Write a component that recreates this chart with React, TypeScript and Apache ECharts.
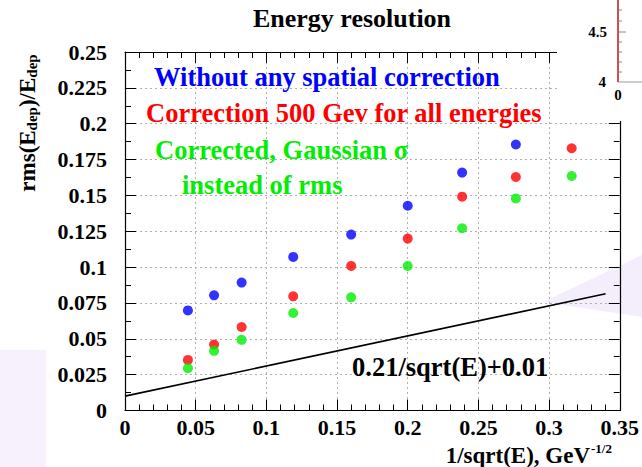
import { useEffect, useRef } from "react";
import * as echarts from "echarts";

// 1/sqrt(E) of each beam energy point
const invSqrtE = [0.0445, 0.063, 0.0825, 0.119, 0.16, 0.2, 0.2385, 0.2765, 0.316];
// rms(Edep)/Edep without any spatial correction (no point at the lowest energy)
const rmsNoCorrection = [0.0698, 0.0803, 0.0892, 0.1071, 0.1227, 0.1428, 0.1659, 0.1855, null];
// rms(Edep)/Edep with the 500 GeV correction for all energies
const rmsCorrection500 = [0.0353, 0.046, 0.0582, 0.0796, 0.1008, 0.1199, 0.1491, 0.1628, 0.1829];
// corrected, Gaussian sigma instead of rms
const sigmaCorrected = [0.0295, 0.0416, 0.0493, 0.068, 0.0789, 0.1008, 0.1271, 0.1479, 0.1635];

// reference parametrisation a/sqrt(E) + b
const fitStochastic = 0.21;
const fitConstant = 0.01;
const fitRange = [0, 0.34];

const xTickLabels = ["0", "0.05", "0.1", "0.15", "0.2", "0.25", "0.3", "0.35"];
const yTickLabels = ["0", "0.025", "0.05", "0.075", "0.1", "0.125", "0.15", "0.175", "0.2", "0.225", "0.25"];

const SERIF = "'Liberation Serif', 'DejaVu Serif', serif";

function pairs(ys: (number | null)[]) {
  const out: number[][] = [];
  ys.forEach((y, i) => {
    if (y !== null) out.push([invSqrtE[i], y]);
  });
  return out;
}

export default function App() {
  const ref = useRef<HTMLDivElement>(null);

  useEffect(() => {
    if (!ref.current) return;
    const chart = echarts.init(ref.current, undefined, { renderer: "svg" });

    const tickFont = {
      fontFamily: SERIF,
      fontWeight: "bold" as const,
      fontSize: 22,
      color: "#000",
    };

    const frameAxis = {
      axisLine: { show: true, onZero: false, lineStyle: { color: "#000", width: 1.2 } },
      axisTick: { show: true, inside: true, length: 11, lineStyle: { color: "#000", width: 1 } },
    };

    const gridLine = { show: true, lineStyle: { color: "#b0b0b0", type: [2, 3] as number[], width: 1 } };

    const fitLine = fitRange.map((x) => [x, fitStochastic * x + fitConstant]);

    const plainText = (
      text: string,
      color: string,
      x: number,
      y: number,
      fontSize: number,
      textAlign: string,
      z = 20
    ) => ({
      type: "text",
      x,
      y,
      z,
      style: {
        text,
        fill: color,
        fontFamily: SERIF,
        fontWeight: "bold",
        fontSize,
        textAlign,
        textVerticalAlign: "middle",
      },
    });

    const insetTicks = [10, 21, 42, 52, 62, 72].map((y) => ({
      type: "line",
      z: 51,
      shape: { x1: 618, y1: y, x2: 622, y2: y },
      style: { stroke: "#888", lineWidth: 1 },
    }));

    chart.setOption({
      animation: false,
      grid: { left: 125, right: 19, top: 52, bottom: 56.5, containLabel: false },
      xAxis: [
        {
          type: "value",
          position: "bottom",
          min: 0,
          max: 0.35,
          interval: 0.05,
          ...frameAxis,
          minorTick: { show: true, splitNumber: 5, length: 6, lineStyle: { color: "#000" } },
          splitLine: gridLine,
          axisLabel: {
            ...tickFont,
            margin: 6,
            formatter: (v: number) => xTickLabels[Math.round(v / 0.05)] ?? "",
          },
        },
        {
          type: "value",
          position: "top",
          min: 0,
          max: 0.35,
          interval: 0.05,
          ...frameAxis,
          minorTick: { show: true, splitNumber: 5, length: 6, lineStyle: { color: "#000" } },
          splitLine: { show: false },
          axisLabel: { show: false },
        },
      ],
      yAxis: [
        {
          type: "value",
          position: "left",
          min: 0,
          max: 0.25,
          interval: 0.025,
          ...frameAxis,
          minorTick: { show: true, splitNumber: 2, length: 6, lineStyle: { color: "#000" } },
          splitLine: gridLine,
          axisLabel: {
            ...tickFont,
            margin: 18,
            formatter: (v: number) => yTickLabels[Math.round(v / 0.025)] ?? "",
          },
        },
        {
          type: "value",
          position: "right",
          min: 0,
          max: 0.25,
          interval: 0.025,
          ...frameAxis,
          minorTick: { show: true, splitNumber: 2, length: 6, lineStyle: { color: "#000" } },
          splitLine: { show: false },
          axisLabel: { show: false },
        },
      ],
      series: [
        {
          type: "line",
          data: fitLine,
          showSymbol: false,
          lineStyle: { color: "#000", width: 1.7 },
          z: 3,
        },
        {
          type: "scatter",
          data: pairs(rmsNoCorrection),
          symbolSize: 10,
          itemStyle: { color: "#0000ff" },
          z: 4,
        },
        {
          type: "scatter",
          data: pairs(rmsCorrection500),
          symbolSize: 10,
          itemStyle: { color: "#ff0000" },
          z: 4,
        },
        {
          type: "scatter",
          data: pairs(sigmaCorrected),
          symbolSize: 10,
          itemStyle: { color: "#00ee00" },
          z: 4,
        },
      ],
      graphic: [
        // soft lavender backdrop shapes
        {
          type: "rect",
          z: -1,
          shape: { x: 0, y: 350, width: 46, height: 117 },
          style: { fill: "#f7f1fd" },
        },
        {
          type: "polygon",
          z: -1,
          shape: { points: [[543, 302], [642, 255], [642, 317]] },
          style: { fill: "#f4eefc" },
        },
        plainText("Energy resolution", "#000", 352, 18, 26, "center"),
        plainText("Without any spatial correction", "#0000ff", 154, 77, 26.5, "left"),
        plainText("Correction 500 Gev for all energies", "#ff0000", 146, 113, 26.5, "left"),
        plainText("Corrected, Gaussian \u03c3", "#00ee00", 155, 150, 26.5, "left"),
        plainText("instead of rms", "#00ee00", 182, 185, 26.5, "left"),
        plainText("0.21/sqrt(E)+0.01", "#000", 352, 367, 26.5, "left"),
        // y axis title with subscripts
        {
          type: "text",
          x: 24,
          y: 123,
          rotation: Math.PI / 2,
          z: 20,
          style: {
            text: "{m|rms(E}{s|dep}{m|)/E}{s|dep}",
            textAlign: "center",
            textVerticalAlign: "middle",
            rich: {
              m: { fontFamily: SERIF, fontWeight: "bold", fontSize: 23, lineHeight: 30, verticalAlign: "bottom", fill: "#000" },
              s: { fontFamily: SERIF, fontWeight: "bold", fontSize: 15, lineHeight: 14, verticalAlign: "bottom", fill: "#000" },
            },
          },
        },
        // x axis title, base text and exponent
        plainText("1/sqrt(E), GeV", "#000", 590, 455, 23, "right"),
        plainText("-1/2", "#000", 591, 448, 13, "left"),
        // neighbouring panel peeking in at the top right
        {
          type: "rect",
          z: 50,
          shape: { x: 557, y: 0, width: 85, height: 121 },
          style: { fill: "#fff" },
        },
        {
          type: "line",
          z: 51,
          shape: { x1: 618, y1: 82, x2: 642, y2: 82 },
          style: { stroke: "#999", lineWidth: 1 },
        },
        {
          type: "line",
          z: 51,
          shape: { x1: 618, y1: 32, x2: 626, y2: 32 },
          style: { stroke: "#888", lineWidth: 1 },
        },
        ...insetTicks,
        {
          type: "line",
          z: 52,
          shape: { x1: 618, y1: 0, x2: 618, y2: 82 },
          style: { stroke: "#d05050", lineWidth: 2 },
        },
        plainText("4.5", "#000", 607, 32, 15, "right", 52),
        plainText("4", "#000", 606, 82, 15, "right", 52),
        plainText("0", "#000", 618, 95, 15, "center", 52),
      ],
    });

    return () => chart.dispose();
  }, []);

  return (
    <div
      ref={ref}
      style={{ position: "fixed", left: 0, top: 0, width: 642, height: 467, background: "#fff" }}
    />
  );
}
